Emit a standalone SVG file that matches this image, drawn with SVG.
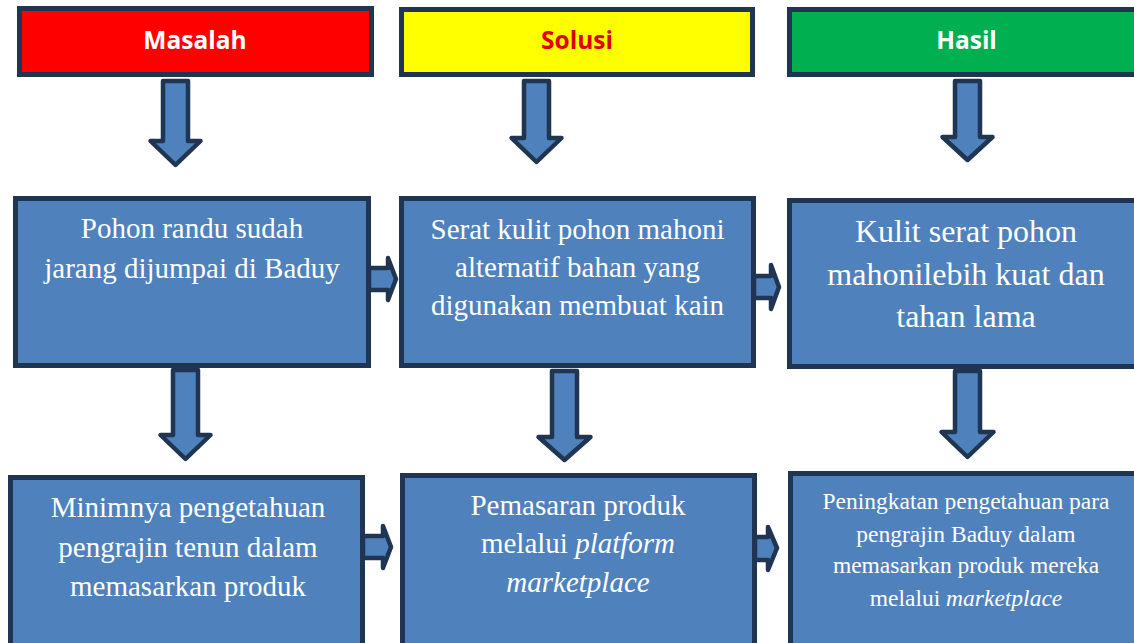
<svg xmlns="http://www.w3.org/2000/svg" width="1134" height="643" viewBox="0 0 1134 643">
<style>
.hdr{stroke:#1f3552;stroke-width:5}
.box{fill:#4f81bd;stroke:#1f3552;stroke-width:5}
.arr{fill:#4f81bd;stroke:#1f3552;stroke-width:4.5;stroke-linejoin:round}
.ht{font-family:"Open Sans","Liberation Sans",sans-serif;font-weight:bold;font-size:24.5px;text-anchor:middle}
.bt{font-family:"Liberation Serif","Times New Roman",serif;fill:#ffffff;text-anchor:middle;font-size:29px}
.big{font-size:32px}
.small{font-size:23.5px}
.it{font-style:italic}
</style>
<rect width="1134" height="643" fill="#ffffff"/>
<g id="connectors">
<polygon class="arr" points="163,81 188,81 188,141 200.5,141 175.5,165 150.5,141 163,141"/>
<polygon class="arr" points="524,81 549,81 549,138 561.5,138 536.5,162 511.5,138 524,138"/>
<polygon class="arr" points="955,81 980,81 980,137 992.5,137 967.5,160 942.5,137 955,137"/>
<polygon class="arr" points="173,370 198,370 198,435 210.5,435 185.5,459 160.5,435 173,435"/>
<polygon class="arr" points="552,371 577,371 577,437 590.5,437 564.5,460 538.5,437 552,437"/>
<polygon class="arr" points="955,371 980,371 980,432 993.5,432 967.5,457 941.5,432 955,432"/>
<polygon class="arr" points="369,268 388,268 388,258 396,279 388,300 388,290 369,290"/>
<polygon class="arr" points="754,276 771,276 771,265 779,287 771,309 771,298 754,298"/>
<polygon class="arr" points="363,536 383,536 383,526 391,547 383,568 383,558 363,558"/>
<polygon class="arr" points="755,537 768,537 768,527 777,548 768,570 768,560 755,560"/>
</g>
<g id="h-masalah">
<rect class="hdr" x="19.5" y="8.5" width="352" height="66" fill="#ff0000"/>
<text class="ht" x="195" y="49" fill="#ffffff">Masalah</text>
</g>
<g id="h-solusi">
<rect class="hdr" x="401.5" y="9.5" width="351" height="65" fill="#ffff00"/>
<text class="ht" x="577" y="49" fill="#e00000">Solusi</text>
</g>
<g id="h-hasil">
<rect class="hdr" x="789.5" y="9.5" width="360" height="65" fill="#00b050"/>
<text class="ht" x="966.5" y="49" fill="#ffffff">Hasil</text>
</g>
<g id="n-pohon">
<rect class="box" x="15.5" y="198.5" width="353" height="167"/>
<text class="bt" x="192" y="238">Pohon randu sudah</text>
<text class="bt" x="192" y="278">jarang dijumpai di Baduy</text>
</g>
<g id="n-serat">
<rect class="box" x="401.5" y="198.5" width="352" height="167"/>
<text class="bt" x="577.5" y="239">Serat kulit pohon mahoni</text>
<text class="bt" x="577.5" y="277">alternatif bahan yang</text>
<text class="bt" x="577.5" y="315">digunakan membuat kain</text>
</g>
<g id="n-kulit">
<rect class="box" x="789.5" y="200.5" width="360" height="166"/>
<text class="bt big" x="966" y="242">Kulit serat pohon</text>
<text class="bt big" x="966" y="285">mahonilebih kuat dan</text>
<text class="bt big" x="966" y="327">tahan lama</text>
</g>
<g id="n-minim">
<rect class="box" x="10.5" y="477.5" width="352" height="200"/>
<text class="bt" x="188" y="517">Minimnya pengetahuan</text>
<text class="bt" x="188" y="557">pengrajin tenun dalam</text>
<text class="bt" x="188" y="596">memasarkan produk</text>
</g>
<g id="n-pemasaran">
<rect class="box" x="402.5" y="475.5" width="352" height="200"/>
<text class="bt" x="578" y="515">Pemasaran produk</text>
<text class="bt" x="578" y="553">melalui <tspan class="it">platform</tspan></text>
<text class="bt it" x="578" y="592">marketplace</text>
</g>
<g id="n-peningkatan">
<rect class="box" x="790.5" y="473.5" width="360" height="200"/>
<text class="bt small" x="966" y="509">Peningkatan pengetahuan para</text>
<text class="bt small" x="966" y="542">pengrajin Baduy dalam</text>
<text class="bt small" x="966" y="573">memasarkan produk mereka</text>
<text class="bt small" x="966" y="606">melalui <tspan class="it">marketplace</tspan></text>
</g>
</svg>
